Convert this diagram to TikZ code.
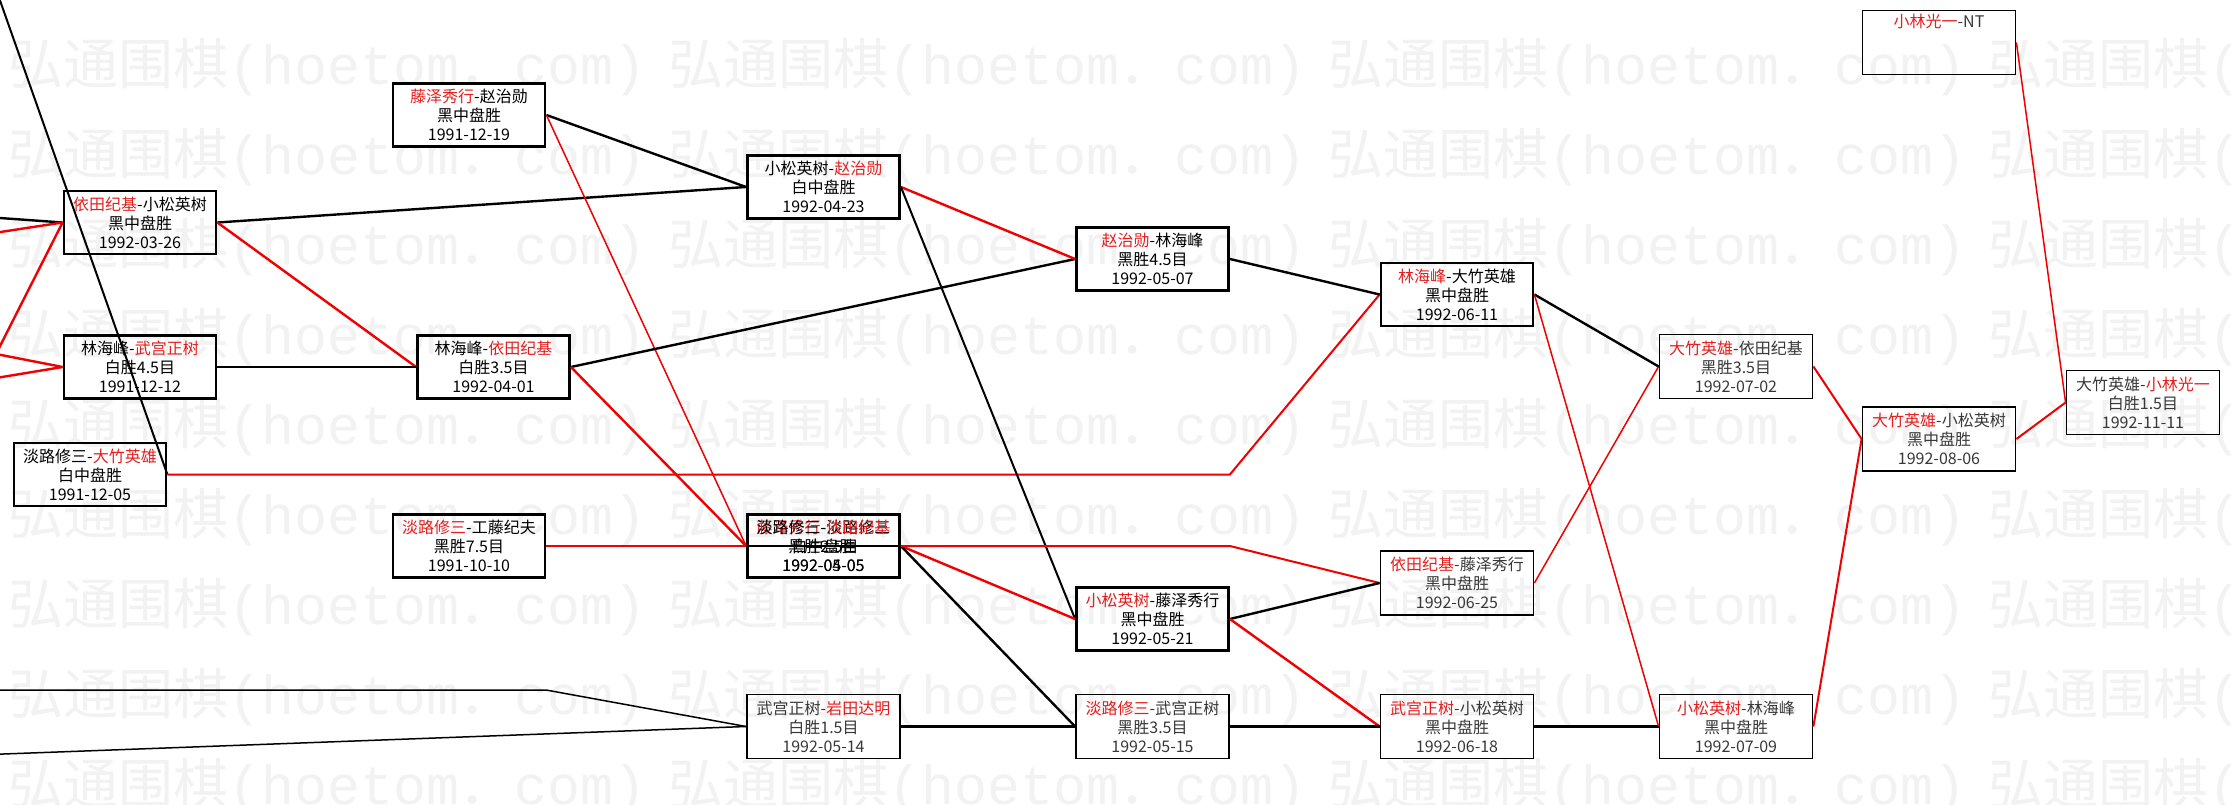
\documentclass[tikz,border=0pt]{standalone}
\usepackage{fontspec}
\setmainfont{Noto Sans CJK SC}
\newfontfamily\wmfont{Liberation Mono}
\definecolor{namered}{RGB}{228, 30, 30}
\definecolor{linered}{RGB}{240, 0, 0}
\definecolor{wmgrey}{RGB}{242, 242, 242}
\usetikzlibrary{positioning}
\newcommand{\rn}[1]{\textcolor{namered}{#1}}

\begin{document}
\begin{tikzpicture}[x=1pt, y=-1pt,
  game/.style={draw, line width=2.8pt, minimum width=152pt, minimum height=63pt, inner sep=0pt, align=center, font=\fontsize{16}{19}\selectfont},
  thingame/.style={game, line width=1.8pt, minimum width=153pt, minimum height=64pt, text=black!78},
  win/.style={draw=linered, line width=2.4pt},
  lose/.style={draw=black, line width=2.4pt},
  fine/.style={line width=1.5pt},
  wmark/.style={text=wmgrey, inner sep=0pt, anchor=west, font=\fontsize{55}{55}\selectfont}]

  \useasboundingbox (0,0) rectangle (2231,805);
  \fill[white] (0,0) rectangle (2231,805);

  % watermark
  \foreach \wy in {67,157,...,787}
    \foreach \wx in {8,668,1328,1988}
      \node[wmark, name=wm-\wx-\wy] at (\wx,\wy) {弘通围棋{\wmfont(hoetom}．{\wmfont com)}};

  % 1991
  \node[game] (d911205) at (90,474.5) {淡路修三-\rn{大竹英雄}\\白中盘胜\\1991-12-05};
  \node[game] (d920326) at (140,222.5) {\rn{依田纪基}-小松英树\\黑中盘胜\\1992-03-26};
  \node[game] (d911212) at (140,367) {林海峰-\rn{武宫正树}\\白胜4.5目\\1991-12-12};
  \node[game] (d911219) at (469,115) {\rn{藤泽秀行}-赵治勋\\黑中盘胜\\1991-12-19};
  \node[game] (d920401) at (493.5,367) {林海峰-\rn{依田纪基}\\白胜3.5目\\1992-04-01};
  \node[game] (d911010) at (469,546) {\rn{淡路修三}-工藤纪夫\\黑胜7.5目\\1991-10-10};

  % 1992
  \node[game] (d920423) at (823.5,187) {小松英树-\rn{赵治勋}\\白中盘胜\\1992-04-23};
  \node[game] (d920405) at (823.5,546) {\rn{藤泽秀行}-淡路修三\\黑胜2.5目\\1992-04-05};
  \node[game] (d920505) at (823.5,546) {淡路修三-\rn{依田纪基}\\白中盘胜\\1992-05-05};
  \node[thingame] (d920514) at (823.5,726.5) {武宫正树-\rn{岩田达明}\\白胜1.5目\\1992-05-14};
  \node[game] (d920507) at (1152.5,259) {\rn{赵治勋}-林海峰\\黑胜4.5目\\1992-05-07};
  \node[game] (d920521) at (1152.5,619) {\rn{小松英树}-藤泽秀行\\黑中盘胜\\1992-05-21};
  \node[thingame] (d920515) at (1152.5,726.5) {\rn{淡路修三}-武宫正树\\黑胜3.5目\\1992-05-15};
  \node[game] (d920611) at (1457,294.5) {\rn{林海峰}-大竹英雄\\黑中盘胜\\1992-06-11};
  \node[thingame] (d920625) at (1457,583) {\rn{依田纪基}-藤泽秀行\\黑中盘胜\\1992-06-25};
  \node[thingame] (d920618) at (1457,726.5) {\rn{武宫正树}-小松英树\\黑中盘胜\\1992-06-18};
  \node[thingame] (d920702) at (1736,366.5) {\rn{大竹英雄}-依田纪基\\黑胜3.5目\\1992-07-02};
  \node[thingame] (d920709) at (1736,726.5) {\rn{小松英树}-林海峰\\黑中盘胜\\1992-07-09};
  \node[thingame] (d920806) at (1939,439) {\rn{大竹英雄}-小松英树\\黑中盘胜\\1992-08-06};
  \node[thingame] (kobNT) at (1939,42.5) {\rn{小林光一}-NT\\\strut\\\strut};
  \node[thingame] (d921111) at (2143,402.5) {大竹英雄-\rn{小林光一}\\白胜1.5目\\1992-11-11};

  % paths coming in from outside
  \coordinate (offTop) at (-3,-8);
  \coordinate (offA1) at (-10,217.3);
  \coordinate (offA2) at (-10,233.6);
  \coordinate (offL) at (-4,354);
  \coordinate (offB) at (-10,379);
  \coordinate (offI1) at (-10,690);
  \coordinate (bendI1) at (546,690);
  \coordinate (offI2) at (-10,754.5);

  \draw[lose, line width=2pt] (offTop) -- (d911205.east);
  \draw[lose] (offA1) -- (d920326.west);
  \draw[win] (offA2) -- (d920326.west);
  \draw[win] (offL) -- (d920326.west);
  \draw[win] (offL) -- (d911212.west);
  \draw[win] (offB) -- (d911212.west);
  \draw[lose, fine] (offI1) -- (bendI1) -- (d920514.west);
  \draw[lose, fine] (offI2) -- (d920514.west);

  % connectors
  \draw[lose] (d920326.east) -- (d920423.west);
  \draw[win] (d920326.east) -- (d920401.west);
  \draw[lose] (d911212.east) -- (d920401.west);
  \draw[lose] (d911219.east) -- (d920423.west);
  \draw[win, fine] (d911219.east) -- (d920405.west);
  \draw[lose] (d920401.east) -- (d920507.west);
  \draw[win] (d920401.east) -- (d920505.west);
  \draw[win, line width=2pt] (d911205.east) -- (d911205.east -| d920507.east) -- (d920611.west);
  \draw[win] (d911010.east) -- (d920405.west);
  \draw[win] (d920423.east) -- (d920507.west);
  \draw[lose, line width=2pt] (d920423.east) -- (d920521.west);
  \draw[lose] (d920405.east) -- (d920505.west);
  \draw[win] (d920405.east) -- (d920521.west);
  \draw[lose] (d920505.east) -- (d920515.west);
  \draw[win, line width=2pt] (d920505.east) -- (d920505.east -| d920521.east) -- (d920625.west);
  \draw[lose] (d920514.east) -- (d920515.west);
  \draw[lose] (d920507.east) -- (d920611.west);
  \draw[lose] (d920521.east) -- (d920625.west);
  \draw[win] (d920521.east) -- (d920618.west);
  \draw[lose] (d920515.east) -- (d920618.west);
  \draw[win, fine] (d920625.east) -- (d920702.west);
  \draw[lose] (d920618.east) -- (d920709.west);
  \draw[lose] (d920611.east) -- (d920702.west);
  \draw[win, fine] (d920611.east) -- (d920709.west);
  \draw[win, line width=2pt] (d920702.east) -- (d920806.west);
  \draw[win, line width=2pt] (d920709.east) -- (d920806.west);
  \draw[win, line width=2pt] (d920806.east) -- (d921111.west);
  \draw[win, fine] (kobNT.east) -- (d921111.west);
\end{tikzpicture}
\end{document}
